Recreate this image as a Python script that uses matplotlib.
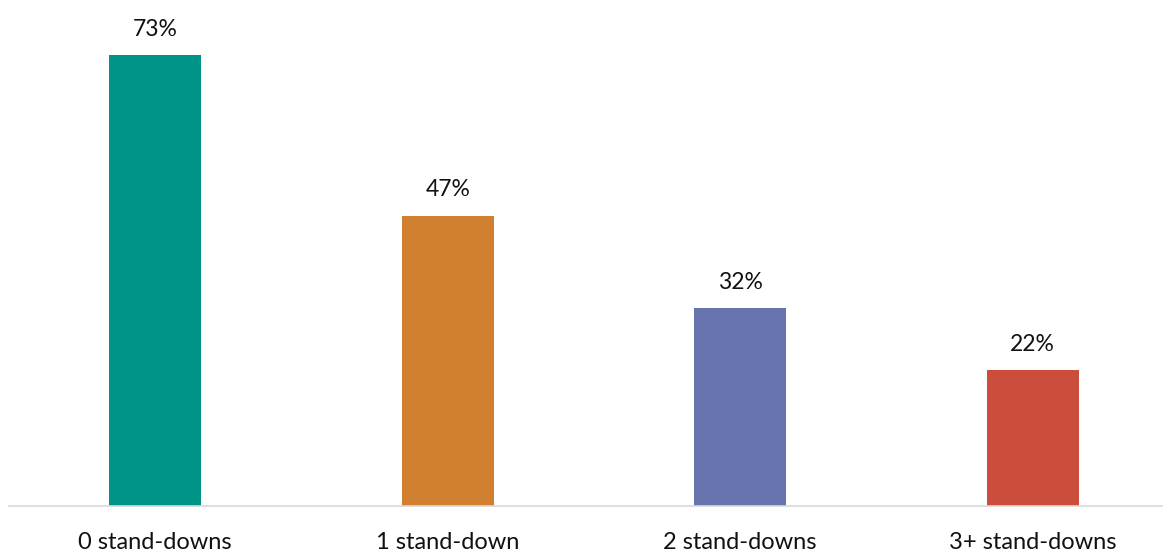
import matplotlib.pyplot as plt

categories = ["0 stand-downs", "1 stand-down", "2 stand-downs", "3+ stand-downs"]
values = [73, 47, 32, 22]
colors = ["#009488", "#D17F31", "#6874AE", "#CB4E3C"]

plt.rcParams['font.family'] = ['Lato', 'DejaVu Sans']

fig = plt.figure(figsize=(11.63, 5.52), dpi=100)
# axes placed in pixel terms: left at 9px, baseline at 506px
ax = fig.add_axes([9 / 1163, 46 / 552, 1154 / 1163, 494 / 552])

x = range(len(categories))
bars = ax.bar(x, values, width=0.315, color=colors)

for b, v in zip(bars, values):
    ax.annotate(f"{v}%", (b.get_x() + b.get_width() / 2, v),
                xytext=(0, 11), textcoords="offset points",
                ha="center", va="bottom", fontsize=16.5, color="#111111")

ax.set_xlim(-0.5, -0.5 + 1154 / 292.5)
ax.set_ylim(0, 80)
ax.set_xticks(list(x))
ax.set_xticklabels(categories, fontsize=17, color="#111111")
ax.tick_params(axis="x", length=0, pad=19)
ax.set_yticks([])
for s in ["top", "right", "left"]:
    ax.spines[s].set_visible(False)
ax.spines["bottom"].set_color("#D9D9D9")
ax.spines["bottom"].set_linewidth(1.2)

fig.savefig("out.png", dpi=100)
